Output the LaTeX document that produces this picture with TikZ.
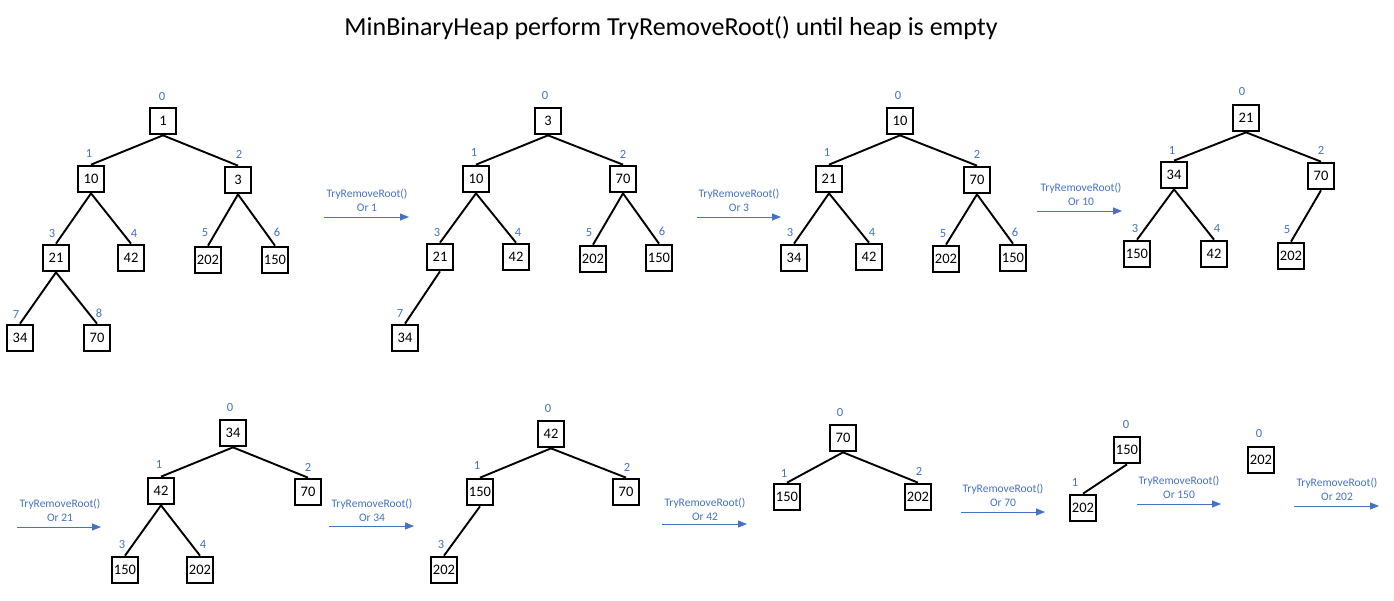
\documentclass[tikz,border=0pt]{standalone}
\usepackage{fontspec}
\setmainfont{Carlito}
\usetikzlibrary{arrows.meta}
\definecolor{idxblue}{HTML}{4472C4}
\newcommand\heapnode[5]{\node[hnode] (#1) at (#2) {#3}; \node[idx] (l#1) at (#4) {#5};}
\newcommand\heapop[5]{\coordinate (#1s) at (#2); \coordinate (#1e) at (#3); \draw[oparrow] (#1s) -- (#1e); \node[optext] (#1t) at (#4) {TryRemoveRoot()\\#5};}
\begin{document}
\begin{tikzpicture}[x=1pt,y=-1pt,
  hnode/.style={draw, line width=2.2pt, minimum size=26.5pt, inner sep=0pt, font=\fontsize{14.5}{16}\selectfont},
  idx/.style={text=idxblue, font=\fontsize{12.5}{14}\selectfont, inner sep=0pt},
  optext/.style={text=idxblue, font=\fontsize{11.5}{14}\selectfont, align=center, inner sep=0pt},
  oparrow/.style={draw=idxblue, line width=1pt, -{Triangle[length=9pt,width=7pt]}},
  hedge/.style={line width=1.9pt}]
\useasboundingbox[fill=white] (0,0) rectangle (1394,600);
\node[font=\fontsize{26}{30}\selectfont] (title) at (671,28) {MinBinaryHeap perform TryRemoveRoot() until heap is empty};

% Tree 1
\heapnode{a0}{163,121}{1}{162,96}{0}
\heapnode{a1}{91,179}{10}{89,153}{1}
\heapnode{a2}{238,180}{3}{239,154}{2}
\heapnode{a3}{56,258}{21}{52,233}{3}
\heapnode{a4}{131,258}{42}{134,233}{4}
\heapnode{a5}{208,260}{202}{205,233}{5}
\heapnode{a6}{275,260}{150}{277,232}{6}
\heapnode{a7}{20,338}{34}{16,314}{7}
\heapnode{a8}{97,338}{70}{99,313}{8}
\foreach \p/\c in {a0/a1,a0/a2,a1/a3,a1/a4,a2/a5,a2/a6,a3/a7,a3/a8} \draw[hedge] (\p.south) -- (\c.north);

% Tree 2
\heapnode{b0}{548,121}{3}{545,95}{0}
\heapnode{b1}{476,179}{10}{474,152}{1}
\heapnode{b2}{623,179}{70}{623,154}{2}
\heapnode{b3}{440,257}{21}{437,232}{3}
\heapnode{b4}{516,257}{42}{518,232}{4}
\heapnode{b5}{593,259}{202}{589,233}{5}
\heapnode{b6}{659,258}{150}{662,231}{6}
\heapnode{b7}{405,338}{34}{400,313}{7}
\foreach \p/\c in {b0/b1,b0/b2,b1/b3,b1/b4,b2/b5,b2/b6,b3/b7} \draw[hedge] (\p.south) -- (\c.north);

% Tree 3
\heapnode{c0}{900,121}{10}{898,95}{0}
\heapnode{c1}{829,179}{21}{827,152}{1}
\heapnode{c2}{977,180}{70}{977,154}{2}
\heapnode{c3}{794,258}{34}{790,232}{3}
\heapnode{c4}{869,257}{42}{872,232}{4}
\heapnode{c5}{946,259}{202}{943,234}{5}
\heapnode{c6}{1013,258}{150}{1015,232}{6}
\foreach \p/\c in {c0/c1,c0/c2,c1/c3,c1/c4,c2/c5,c2/c6} \draw[hedge] (\p.south) -- (\c.north);

% Tree 4
\heapnode{d0}{1246,118}{21}{1242,91}{0}
\heapnode{d1}{1174,175}{34}{1172,150}{1}
\heapnode{d2}{1321,176}{70}{1321,150}{2}
\heapnode{d3}{1137,254}{150}{1135,228}{3}
\heapnode{d4}{1214,254}{42}{1217,228}{4}
\heapnode{d5}{1291,256}{202}{1287,230}{5}
\foreach \p/\c in {d0/d1,d0/d2,d1/d3,d1/d4,d2/d5} \draw[hedge] (\p.south) -- (\c.north);

% Tree 5
\heapnode{e0}{233,433}{34}{230,407}{0}
\heapnode{e1}{161,491}{42}{159,464}{1}
\heapnode{e2}{308,492}{70}{308,467}{2}
\heapnode{e3}{125,570}{150}{122,544}{3}
\heapnode{e4}{200,570}{202}{203,544}{4}
\foreach \p/\c in {e0/e1,e0/e2,e1/e3,e1/e4} \draw[hedge] (\p.south) -- (\c.north);

% Tree 6
\heapnode{f0}{551,434}{42}{548,408}{0}
\heapnode{f1}{480,492}{150}{477,465}{1}
\heapnode{f2}{626,492}{70}{627,467}{2}
\heapnode{f3}{444,570}{202}{441,544}{3}
\foreach \p/\c in {f0/f1,f0/f2,f1/f3} \draw[hedge] (\p.south) -- (\c.north);

% Tree 7
\heapnode{g0}{843,438}{70}{840,412}{0}
\heapnode{g1}{787,497}{150}{784,473}{1}
\heapnode{g2}{918,497}{202}{919,471}{2}
\foreach \p/\c in {g0/g1,g0/g2} \draw[hedge] (\p.south) -- (\c.north);

% Tree 8
\heapnode{h0}{1127,450}{150}{1126,424}{0}
\heapnode{h1}{1083,508}{202}{1075,482}{1}
\draw[hedge] (h0.south) -- (h1.north);

% Tree 9
\heapnode{i0}{1261,460}{202}{1259,433}{0}

% Operations
\heapop{o1}{324,217}{409,217}{367,200}{Or 1}
\heapop{o2}{697,217}{781,217}{739,200}{Or 3}
\heapop{o3}{1037,211}{1122,211}{1081,194.5}{Or 10}
\heapop{o4}{17,527}{101,527}{60,510}{Or 21}
\heapop{o5}{329,526}{414,526}{372,510}{Or 34}
\heapop{o6}{662,524}{747,524}{705,509}{Or 42}
\heapop{o7}{961,512}{1045,512}{1003,495.5}{Or 70}
\heapop{o8}{1137,504}{1221,504}{1179,487.5}{Or 150}
\heapop{o9}{1294,506}{1379,506}{1337,489}{Or 202}
\end{tikzpicture}
\end{document}
